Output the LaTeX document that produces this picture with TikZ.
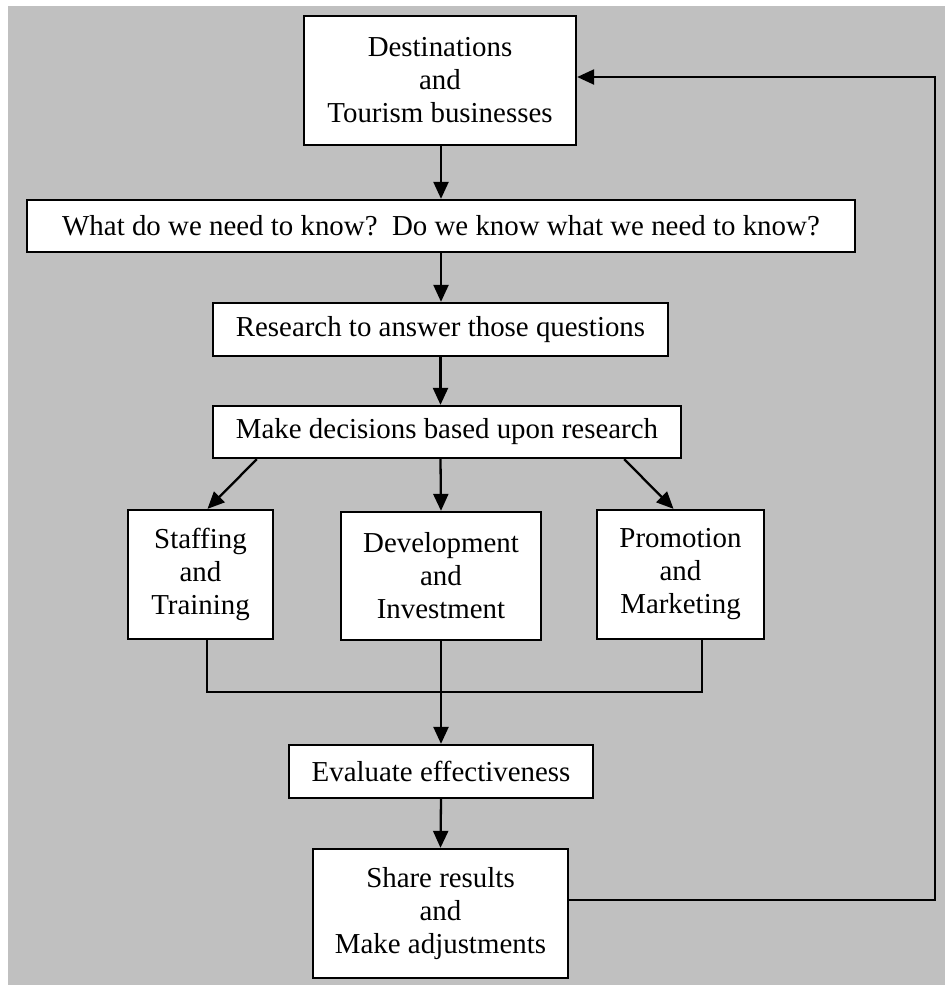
\documentclass[tikz,border=0pt]{standalone}
\usepackage{fontspec}
\setmainfont{Liberation Serif}
\usepackage{xcolor}
\usetikzlibrary{arrows.meta}
\definecolor{bggray}{HTML}{C0C0C0}

\begin{document}
\begin{tikzpicture}[x=1pt,y=-1pt,
  box/.style={draw=black,fill=white,line width=2.3pt,inner sep=0pt,align=center,
    font=\fontsize{28.9}{33}\selectfont},
  flow/.style={line width=2.3pt,-{Triangle[length=17pt,width=15pt]}},
  link/.style={line width=2.3pt}]
\useasboundingbox (0,0) rectangle (945,985);
\fill [bggray] (8,6) rectangle (945,985);
\node [box,minimum width=272pt,minimum height=129pt] (dest) at (440,80.5) {Destinations\\and\\Tourism businesses};
\node [box,minimum width=828pt,minimum height=52pt] (know) at (441,226) {What do we need to know?\ \ Do we know what we need to know?};
\node [box,minimum width=455pt,minimum height=53pt] (research) at (440.5,329.5) {Research to answer those questions};
\node [box,minimum width=468pt,minimum height=52pt] (decide) at (447,432) {Make decisions based upon research};
\node [box,minimum width=145pt,minimum height=129pt] (staff) at (200.5,574.5) {Staffing\\and\\Training};
\node [box,minimum width=200pt,minimum height=128pt] (devel) at (441,576) {Development\\and\\Investment};
\node [box,minimum width=167pt,minimum height=129pt] (promo) at (680.5,574.5) {Promotion\\and\\Marketing};
\node [box,minimum width=304pt,minimum height=53pt] (eval) at (441,771.5) {Evaluate effectiveness};
\node [box,minimum width=255pt,minimum height=129pt] (share) at (440.5,913.5) {Share results\\and\\Make adjustments};
\coordinate (join) at (441,692);
\coordinate (loopup) at (935,77);
\draw [flow] (dest.south -| know.north) -- (know.north);
\draw [flow] (know.south) -- (know.south |- research.north);
\draw [flow] (research.south) -- (research.south |- decide.north);
\draw [flow] ([xshift=45pt]decide.south west) -- ([xshift=7pt]staff.north);
\draw [flow] (research.south |- decide.south) -- (devel.north);
\draw [flow] ([xshift=-58pt]decide.south east) -- ([xshift=-7pt]promo.north);
\draw [link] ([xshift=6.5pt]staff.south) |- (join) -| ([xshift=21.5pt]promo.south);
\draw [flow] (devel.south) -- (eval.north);
\draw [flow] (eval.south) -- (share.north);
\draw [flow] ([yshift=13.5pt]share.east) -| (loopup) -- (loopup -| dest.east);
\end{tikzpicture}
\end{document}
